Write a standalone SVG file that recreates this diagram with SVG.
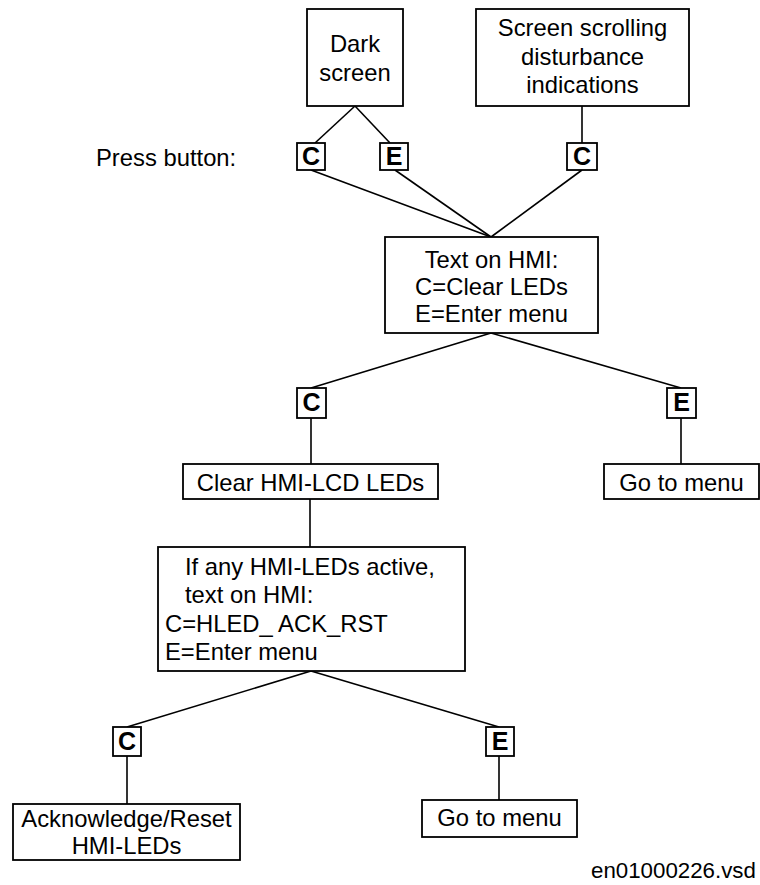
<svg xmlns="http://www.w3.org/2000/svg" width="760" height="885" viewBox="0 0 760 885">
<style>
.b{fill:#fff;stroke:#000;stroke-width:1.8}
.t{font-family:"Liberation Sans",Arial,sans-serif;font-size:23.8px;fill:#000}
.m{text-anchor:middle}
.k{font-family:"Liberation Sans",Arial,sans-serif;font-size:25px;font-weight:bold;text-anchor:middle;fill:#000}
.c line{stroke:#000;stroke-width:1.6}
</style>
<rect width="760" height="885" fill="#fff"/>
<g class="c" id="connectors">
<line x1="355" y1="106" x2="315" y2="143"/>
<line x1="355" y1="106" x2="390" y2="143"/>
<line x1="582" y1="106" x2="582" y2="143"/>
<line x1="311" y1="170" x2="491" y2="237"/>
<line x1="395" y1="170" x2="491" y2="237"/>
<line x1="582" y1="170" x2="491" y2="237"/>
<line x1="491" y1="333" x2="311" y2="388"/>
<line x1="491" y1="333" x2="681" y2="388"/>
<line x1="311" y1="418" x2="311" y2="464"/>
<line x1="681" y1="418" x2="681" y2="464"/>
<line x1="310" y1="499" x2="310" y2="547"/>
<line x1="311" y1="671" x2="127" y2="727"/>
<line x1="311" y1="671" x2="499" y2="727"/>
<line x1="127" y1="756" x2="127" y2="804"/>
<line x1="499" y1="756" x2="499" y2="800"/>
</g>
<text class="t" x="96" y="166">Press button:</text>
<g id="dark">
<rect class="b" x="307" y="9" width="96" height="97"/>
<text class="t m" x="355" y="52">Dark</text>
<text class="t m" x="355" y="81">screen</text>
</g>
<g id="scroll">
<rect class="b" x="476" y="9" width="213" height="97"/>
<text class="t m" x="582.5" y="36">Screen scrolling</text>
<text class="t m" x="582.5" y="65">disturbance</text>
<text class="t m" x="582.5" y="93">indications</text>
</g>
<g id="c1"><rect class="b" x="297" y="143" width="28" height="27"/><text class="k" x="311" y="165">C</text></g>
<g id="e1"><rect class="b" x="380" y="143" width="28" height="27"/><text class="k" x="394" y="165">E</text></g>
<g id="c2"><rect class="b" x="567" y="143" width="30" height="27"/><text class="k" x="582" y="165">C</text></g>
<g id="hmi">
<rect class="b" x="385" y="237" width="213" height="96"/>
<text class="t m" x="491.5" y="268">Text on HMI:</text>
<text class="t m" x="491.5" y="294.5">C=Clear LEDs</text>
<text class="t m" x="491.5" y="321.5">E=Enter menu</text>
</g>
<g id="c3"><rect class="b" x="297" y="388" width="29" height="30"/><text class="k" x="311.5" y="411">C</text></g>
<g id="e3"><rect class="b" x="667" y="388" width="29" height="30"/><text class="k" x="681.5" y="411">E</text></g>
<g id="clear">
<rect class="b" x="183" y="464" width="255" height="35"/>
<text class="t m" x="310.5" y="491">Clear HMI-LCD LEDs</text>
</g>
<g id="menu1">
<rect class="b" x="604" y="464" width="155" height="35"/>
<text class="t m" x="681.5" y="491">Go to menu</text>
</g>
<g id="ifany">
<rect class="b" x="158" y="547" width="307" height="124"/>
<text class="t" x="185" y="574.5">If any HMI-LEDs active,</text>
<text class="t" x="185" y="603">text on HMI:</text>
<text class="t" x="165" y="631.5">C=HLED_ ACK_RST</text>
<text class="t" x="165" y="660">E=Enter menu</text>
</g>
<g id="c4"><rect class="b" x="113" y="727" width="28" height="29"/><text class="k" x="127" y="750">C</text></g>
<g id="e4"><rect class="b" x="486" y="727" width="28" height="29"/><text class="k" x="500" y="750">E</text></g>
<g id="ack">
<rect class="b" x="13" y="804" width="227" height="56"/>
<text class="t m" x="126.5" y="827">Acknowledge/Reset</text>
<text class="t m" x="126.5" y="854">HMI-LEDs</text>
</g>
<g id="menu2">
<rect class="b" x="422" y="800" width="155" height="37"/>
<text class="t m" x="499.5" y="826">Go to menu</text>
</g>
<text class="t" x="591" y="878" style="font-size:22.3px">en01000226.vsd</text>
</svg>
